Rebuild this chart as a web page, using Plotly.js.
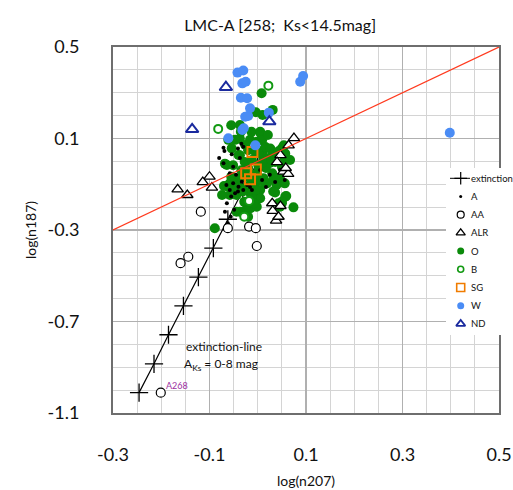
<!DOCTYPE html>
<html><head><meta charset="utf-8">
<script src="https://cdn.plot.ly/plotly-3.0.1.min.js"></script>
<style>html,body{margin:0;padding:0;background:#fff;}#chart{width:513px;height:490px;}</style>
</head><body><div id="chart"></div>
<script>
// ---- data (log n207 , log n187) ----
const extMag = [0,1,2,3,4,5,6,7,8];
const extX = [0,-0.031,-0.062,-0.092,-0.123,-0.154,-0.185,-0.215,-0.246];
const extY = [0,-0.126,-0.253,-0.379,-0.506,-0.632,-0.758,-0.885,-1.011];

const A_x = [-0.071,-0.069,-0.054,-0.051,-0.034,-0.041,-0.030,-0.071,-0.058,-0.051,-0.065,-0.058,-0.055,-0.041,-0.064,-0.068,-0.049,-0.056,-0.062,-0.047,-0.040,-0.033,-0.030,-0.022,-0.012,-0.016,0.009,0.017,0.025,0.036,0.046,0.056,0.005,-0.045,-0.080,-0.037];
const A_y = [0.060,0.045,0.031,-0.023,0.077,0.056,0.064,-0.008,-0.052,-0.096,-0.103,-0.125,-0.154,-0.132,-0.183,-0.220,-0.212,-0.242,-0.271,-0.139,-0.111,-0.089,-0.125,-0.103,-0.125,-0.112,-0.081,-0.112,-0.059,-0.090,-0.038,-0.081,-0.038,-0.059,0.015,0.015];

const AA_x = [-0.118,-0.062,-0.018,-0.004,-0.002,-0.144,-0.160,-0.201];
const AA_y = [-0.220,-0.292,-0.285,-0.292,-0.370,-0.417,-0.445,-1.011];

const ALR_x = [0.075,0.064,0.047,0.040,0.053,0.063,0.058,0.030,0.047,0.031,0.038,0.043,-0.100,-0.095,-0.114,-0.166,-0.146];
const ALR_y = [0.102,0.070,0.027,-0.003,-0.045,-0.055,-0.029,-0.183,-0.195,-0.216,-0.259,-0.242,-0.067,-0.115,-0.091,-0.122,-0.147];

const O_x = [0.008,0.031,0.010,-0.037,0.006,-0.035,-0.061,-0.002,-0.016,-0.054,0.012,0.050,0.043,0.056,-0.064,-0.055,-0.037,-0.068,-0.051,-0.037,-0.020,-0.027,-0.013,-0.034,0.005,0.009,0.016,-0.005,0.026,0.012,0.030,0.043,0.057,0.054,0.036,0.050,-0.040,0.001,0.022,-0.058,-0.061,-0.051,-0.058,-0.044,-0.037,-0.023,-0.013,-0.002,0.005,0.001,0.005,-0.015,-0.023,0.008,0.019,0.032,0.046,0.039,0.056,0.059,0.050,0.046,0.074,0.032,-0.044,-0.015,-0.089,-0.055,-0.044,-0.048,-0.031,-0.013,-0.024,-0.037,-0.020,-0.002,0.012,0.030,0.040,0.016,-0.005,0.036,0.057,0.050,0.043,-0.002,-0.008,-0.026,-0.012,0.001,0.017,0.025,-0.020,-0.037,-0.008,0.009,-0.047,0.021,0.067,-0.070,-0.074,-0.028,-0.004];
const O_y = [0.298,0.225,0.203,0.159,0.123,0.130,0.094,0.086,0.094,0.057,0.050,0.057,0.035,0.014,-0.016,0.158,0.099,-0.010,-0.017,0.027,0.049,-0.003,0.129,-0.039,0.129,0.092,0.063,0.041,0.056,0.019,0.027,0.044,0.034,0.070,-0.003,-0.024,0.028,0.035,0.014,-0.096,-0.111,-0.125,-0.147,-0.147,-0.118,-0.111,-0.096,-0.089,-0.125,-0.147,-0.161,-0.139,-0.067,-0.081,-0.096,-0.081,-0.074,-0.103,-0.096,-0.151,-0.183,-0.198,-0.201,-0.132,-0.220,-0.205,-0.292,-0.067,-0.096,-0.132,-0.132,-0.154,-0.212,-0.220,-0.242,-0.052,-0.074,-0.052,-0.074,-0.096,-0.125,-0.136,-0.154,-0.176,-0.183,-0.198,-0.183,0.072,0.006,-0.016,-0.029,-0.007,-0.029,-0.073,-0.059,-0.007,0.094,0.115,0.006,-0.108,-0.147,-0.177,0.215];

const B_x = [0.022,-0.082,-0.018,-0.028];
const B_y = [0.331,0.142,-0.173,-0.242];

const SG_x = [-0.011,-0.004,-0.024,-0.016];
const SG_y = [0.041,-0.035,-0.052,-0.078];

const W_x = [-0.042,-0.030,-0.032,-0.025,-0.035,-0.022,-0.016,-0.026,-0.020,-0.032,-0.029,-0.061,0.023,0.088,0.094,0.398,-0.005];
const W_y = [0.388,0.397,0.341,0.348,0.278,0.276,0.232,0.195,0.198,0.137,0.145,0.101,0.213,0.348,0.373,0.125,0.070];

const ND_x = [-0.066,0.024,-0.136];
const ND_y = [0.324,0.174,0.140];

const oneToOne = [-0.3, 0.5];

const xTicks = [-0.3,-0.1,0.1,0.3,0.5];
const xTickText = ['-0.3','-0.1','0.1','0.3','0.5'];
const yTicks = [0.5,0.1,-0.3,-0.7,-1.1];
const yTickText = ['0.5','0.1','-0.3','-0.7','-1.1'];

const legendLabels = ['extinction','A','AA','ALR','O','B','SG','W','ND'];

// ---- styles ----
const styles = {
  A:   {symbol:'circle', size:4, color:'#000', line:{width:0}},
  AA:  {symbol:'circle', size:9, color:'#fff', line:{color:'#000', width:1.2}},
  ALR: {symbol:'triangle-up', size:10, color:'#fff', line:{color:'#000', width:1.3}},
  O:   {symbol:'circle', size:10, color:'#0a8a0a', line:{width:0}},
  B:   {symbol:'circle', size:8, color:'#fff', line:{color:'#129912', width:2}},
  SG:  {symbol:'square-open', size:10, color:'#f07c00', line:{color:'#f07c00', width:2}},
  W:   {symbol:'circle', size:10, color:'#4a8cf5', line:{width:0}},
  ND:  {symbol:'triangle-up', size:11, color:'#fff', line:{color:'#1a2a9e', width:2}}
};
const legendSizes = {A:3, AA:7, ALR:8, O:7, B:6, SG:8, W:7, ND:8};
const groups = {
  A:[A_x,A_y], AA:[AA_x,AA_y], ALR:[ALR_x,ALR_y], O:[O_x,O_y],
  B:[B_x,B_y], SG:[SG_x,SG_y], W:[W_x,W_y], ND:[ND_x,ND_y]
};
const drawOrder = ['O','A','AA','ALR','B','SG','W','ND'];

const traces = [];
traces.push({x:extX, y:extY, text:extMag, type:'scatter', mode:'lines+markers', showlegend:false, hoverinfo:'x+y+text',
  line:{color:'#000', width:1.2}, marker:{symbol:'cross-thin', size:13, color:'#000', line:{color:'#000', width:1.3}}});
drawOrder.forEach(k => {
  traces.push({x:groups[k][0], y:groups[k][1], name:k, type:'scatter', mode:'markers', showlegend:false, marker:styles[k]});
});
traces.push({x:oneToOne, y:oneToOne, type:'scatter', mode:'lines', showlegend:false, hoverinfo:'skip',
  line:{color:'#ff3a1e', width:1.2}});

// ---- hand-made legend in its own small subplot ----
const symX = 14.7, txtX = 23;
traces.push({x:[4,24], y:[0,0], xaxis:'x2', yaxis:'y2', type:'scatter', mode:'lines', showlegend:false, hoverinfo:'skip', line:{color:'#000', width:1}});
traces.push({x:[symX], y:[0], xaxis:'x2', yaxis:'y2', type:'scatter', mode:'markers', showlegend:false, hoverinfo:'skip',
  marker:{symbol:'cross-thin', size:9, line:{color:'#000', width:1.2}}});
legendLabels.slice(1).forEach((k, i) => {
  const st = Object.assign({}, styles[k]);
  st.size = legendSizes[k];
  if (k === 'B') st.line = {color:'#129912', width:1.6};
  if (k === 'SG') st.line = {color:'#f07c00', width:1.6};
  if (k === 'ND') st.line = {color:'#1a2a9e', width:1.8};
  traces.push({x:[symX], y:[i+1], xaxis:'x2', yaxis:'y2', type:'scatter', mode:'markers', showlegend:false, hoverinfo:'skip', marker:st});
});

const annotations = legendLabels.map((t, i) => ({
  xref:'x2', yref:'y2', x:txtX, y:i, text:t, showarrow:false, xanchor:'left', yanchor:'middle',
  font:{size:9.5, color:'#111'}
}));
annotations.push({xref:'x', yref:'y', x:-0.152, y:-0.81, text:'extinction-line', showarrow:false, xanchor:'left', yanchor:'middle', font:{size:12, color:'#111'}});
annotations.push({xref:'x', yref:'y', x:-0.158, y:-0.89, text:'A<sub>Ks</sub> = 0-8 mag', showarrow:false, xanchor:'left', yanchor:'middle', font:{size:12, color:'#111'}});
annotations.push({xref:'x', yref:'y', x:-0.195, y:-0.981, text:'A268', showarrow:false, xanchor:'left', yanchor:'middle', font:{size:9, color:'#9b2fa0'}});

const layout = {
  width:513, height:490,
  margin:{l:113, r:0, t:47, b:77, autoexpand:false},
  paper_bgcolor:'#ffffff', plot_bgcolor:'#ffffff',
  font:{family:'Lato, "Open Sans", sans-serif', color:'#111'},
  showlegend:false,
  title:{text:'LMC-A [258;\u00a0 Ks<14.5mag]', x:0.546, xref:'container', xanchor:'center', y:0.949, yref:'container', yanchor:'middle', font:{size:16, color:'#111'}},
  xaxis:{domain:[0,0.965], range:[-0.3,0.5], tickmode:'array', tickvals:xTicks, ticktext:xTickText, ticks:'',
    tickfont:{size:18}, ticklabelstandoff:24,
    showline:true, mirror:true, linecolor:'#6e6e6e', linewidth:2, zeroline:false,
    showgrid:true, gridcolor:'#b0b0b0', gridwidth:1.5,
    minor:{tickmode:'linear', tick0:-0.3, dtick:0.05, showgrid:true, gridcolor:'#d4d4d4', gridwidth:1, ticks:''},
    title:{text:'log(n207)', font:{size:14}, standoff:13}},
  yaxis:{domain:[0,1], range:[-1.1,0.5], tickmode:'array', tickvals:yTicks, ticktext:yTickText, ticks:'',
    tickfont:{size:18}, ticklabelstandoff:28,
    showline:true, mirror:true, linecolor:'#6e6e6e', linewidth:2, zeroline:false,
    showgrid:true, gridcolor:'#b0b0b0', gridwidth:1.5,
    minor:{tickmode:'linear', tick0:-1.1, dtick:0.1, showgrid:true, gridcolor:'#d4d4d4', gridwidth:1, ticks:''},
    title:{text:'log(n187)', font:{size:14}, standoff:8}},
  xaxis2:{domain:[0.8325,1], range:[0,67], anchor:'y2', visible:false, fixedrange:true},
  yaxis2:{domain:[0.2131,0.6694], range:[8.61,-0.566], anchor:'x2', visible:false, fixedrange:true},
  annotations:annotations
};

Plotly.newPlot('chart', traces, layout, {displayModeBar:false, staticPlot:true});
</script>
</body></html>
